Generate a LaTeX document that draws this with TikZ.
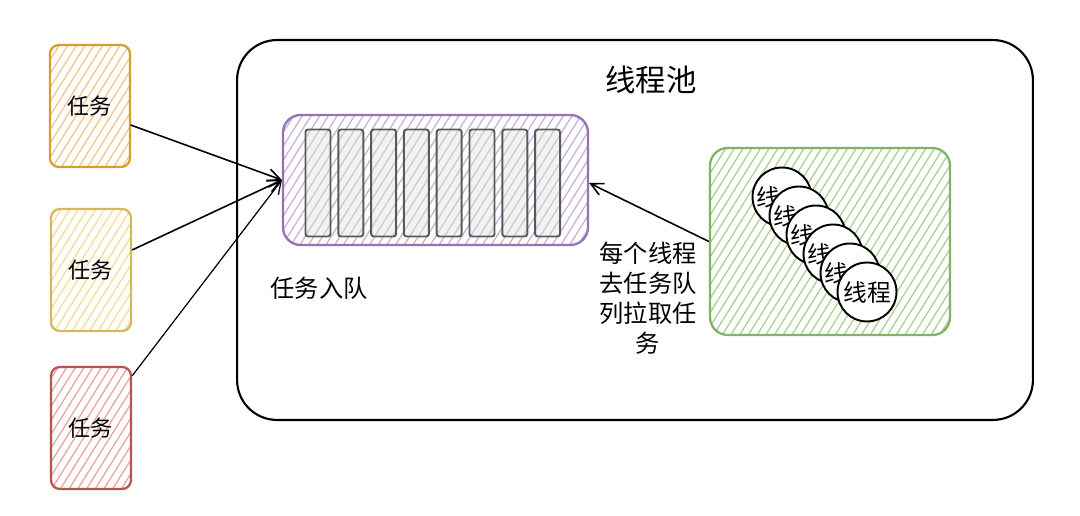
\documentclass[tikz,border=0pt]{standalone}
\usepackage{fontspec}
\setmainfont{Noto Sans CJK SC}
\usepackage{tikz}
\usetikzlibrary{positioning, arrows.meta, patterns.meta}
\definecolor{taskOrange}{RGB}{214,158,46}
\definecolor{taskOrangeL}{RGB}{246,196,140}
\definecolor{taskYellow}{RGB}{214,184,92}
\definecolor{taskYellowL}{RGB}{245,222,150}
\definecolor{taskRed}{RGB}{184,84,80}
\definecolor{taskRedL}{RGB}{234,165,158}
\definecolor{queuePurple}{RGB}{150,115,175}
\definecolor{queuePurpleL}{RGB}{200,178,222}
\definecolor{slotGray}{RGB}{90,90,90}
\definecolor{poolGreen}{RGB}{130,179,102}
\definecolor{poolGreenL}{RGB}{170,210,148}

\begin{document}
\begin{tikzpicture}[
    x=0.02cm, y=-0.02cm,
    hatch/.style={pattern={Lines[angle=58, distance=4.2pt, line width=0.75pt]}, pattern color=#1},
    task/.style={rectangle, draw=#1, line width=1.3pt, minimum width=1.6cm, minimum height=2.44cm, rounded corners=5pt},
    slot/.style={rectangle, draw=slotGray, line width=1.1pt, preaction={fill=black!5}, hatch=black!20, minimum width=0.5cm, minimum height=2.14cm, rounded corners=1.5pt},
    thread/.style={circle, draw=black, line width=1.1pt, fill=white, minimum size=1.18cm, inner sep=0pt, font=\fontsize{13.5}{15}\selectfont},
    arrow/.style={-{Straight Barb[length=2.5mm, width=2.5mm]}, line width=0.9pt},
    label/.style={font=\fontsize{13.8}{17}\selectfont, align=center}
]
\useasboundingbox (0,0) rectangle (1080,516);

% Pool
\node[draw=black, line width=1.2pt, rounded corners=0.8cm, minimum width=15.92cm, minimum height=7.6cm] (pool) at (635,230) {};
\node[font=\fontsize{17.3}{20}\selectfont] (title) at (651,80) {线程池};

% Tasks
\node[task=taskOrange, hatch=taskOrangeL] (t1) at (90,106) {};
\node[task=taskYellow, hatch=taskYellowL] (t2) at (91,270) {};
\node[task=taskRed, hatch=taskRedL] (t3) at (91,428) {};
\foreach \n in {t1,t2,t3}
    \node[font=\fontsize{12.6}{14}\selectfont] at (\n) {任务};

% Queue
\node[rectangle, draw=queuePurple, line width=1.3pt, hatch=queuePurpleL, rounded corners=10pt, minimum width=6.1cm, minimum height=2.6cm] (queue) at (435.5,180) {};
\foreach \i in {0,...,7}
    \node[slot] (s\i) at (318+32.8*\i,183) {};
\node[label, below right=0.5cm and -0.35cm of queue.south west] (enq) {任务入队};

% Threads (back ones only show the left part of their text)
\node[rectangle, draw=poolGreen, line width=1.3pt, hatch=poolGreenL, rounded corners=10pt, minimum width=4.8cm, minimum height=3.74cm] (workers) at (830,241.5) {};
\foreach \i in {0,...,4} {
    \node[thread] (c\i) at (782+17*\i,197+19*\i) {};
    \node[font=\fontsize{13.5}{15}\selectfont, inner sep=0pt, xshift=-0.27cm] at (c\i) {线};
}
\node[thread] (c5) at (867,292) {线程};

\node[label] (fetch) at (648,298) {每个线程\\去任务队\\列拉取任\\务};

% Arrows
\draw[arrow] ([yshift=-0.38cm]t1.east) -- (queue.west);
\draw[arrow] ([yshift=0.4cm]t2.east) -- (queue.west);
\draw[arrow, line width=0.7pt] ([yshift=-0.2cm]t3.north east) -- (queue.west);
\draw[arrow] (workers.west) -- ([yshift=-0.06cm]queue.east);
\end{tikzpicture}
\end{document}
